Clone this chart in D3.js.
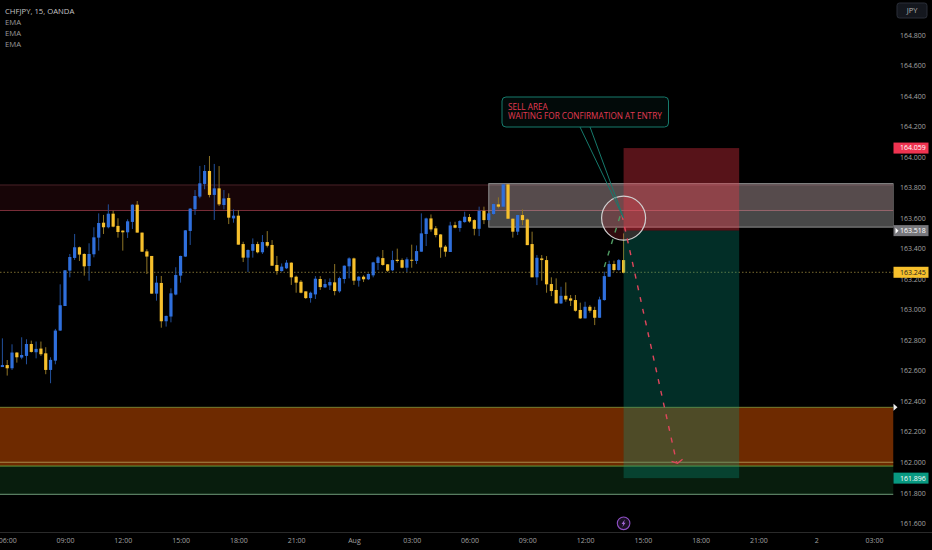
<!DOCTYPE html>
<html>
<head>
<meta charset="utf-8">
<script src="https://cdn.jsdelivr.net/npm/d3@7"></script>
<style>
    html, body { margin: 0; padding: 0; background: #000; }
    svg { display: block; }
    text { font-family: "Open Sans", sans-serif; }
</style>
</head>
<body>
<svg width="932" height="550"></svg>
<script>
let opens = [162.624,162.637,162.616,162.719,162.686,162.697,162.775,162.721,162.745,162.714,162.605,162.666,162.863,163.024,163.256,163.339,163.409,163.365,163.286,163.363,163.472,163.570,163.540,163.629,163.549,163.518,163.507,163.575,163.688,163.505,163.382,163.352,163.105,163.175,162.924,162.955,163.099,163.223,163.348,163.516,163.658,163.741,163.824,163.909,163.752,163.795,163.686,163.732,163.598,163.616,163.430,163.341,163.386,163.430,163.376,163.443,163.424,163.293,163.253,163.271,163.308,163.216,163.183,163.120,163.076,163.100,163.201,163.146,163.159,163.179,163.120,163.201,163.284,163.336,163.190,163.216,163.199,163.225,163.306,163.338,163.297,163.258,163.327,163.325,163.275,163.327,163.319,163.380,163.496,163.598,163.533,163.493,163.413,163.378,163.554,163.535,163.574,163.607,163.587,163.530,163.648,163.587,163.627,163.690,163.675,163.821,163.596,163.511,163.620,163.591,163.430,163.212,163.336,163.325,163.168,163.129,163.041,163.091,163.074,163.063,162.998,162.943,163.019,162.998,162.947,163.063,163.216,163.299,163.260,163.325];
let highs = [162.812,162.670,162.773,162.721,162.819,162.806,162.797,162.791,162.791,162.754,162.688,162.874,163.166,163.260,163.365,163.496,163.413,163.369,163.435,163.540,163.631,163.621,163.690,163.649,163.599,163.520,163.592,163.690,163.712,163.505,163.396,163.352,163.221,163.221,162.961,163.140,163.278,163.354,163.522,163.666,163.784,163.942,163.948,164.007,163.955,163.941,163.784,163.762,163.657,163.653,163.445,163.395,163.467,163.445,163.489,163.515,163.456,163.352,163.303,163.325,163.310,163.223,163.194,163.120,163.118,163.220,163.220,163.199,163.205,163.299,163.216,163.290,163.343,163.341,163.220,163.225,163.238,163.314,163.352,163.391,163.299,163.386,163.400,163.336,163.343,163.426,163.421,163.631,163.603,163.624,163.548,163.495,163.423,163.576,163.576,163.587,163.642,163.627,163.592,163.675,163.675,163.635,163.696,163.736,163.823,163.823,163.598,163.622,163.657,163.598,163.511,163.358,163.358,163.351,163.212,163.205,163.150,163.179,163.096,163.096,163.046,163.052,163.030,163.019,163.085,163.249,163.321,163.321,163.332,163.500];
let lows = [162.624,162.568,162.605,162.653,162.675,162.642,162.719,162.681,162.697,162.577,162.518,162.642,162.861,163.024,163.212,163.326,163.319,163.223,163.190,163.343,163.387,163.496,163.533,163.540,163.472,163.387,163.470,163.529,163.505,163.378,163.234,163.105,163.059,162.882,162.889,162.917,163.094,163.177,163.345,163.424,163.621,163.730,163.789,163.736,163.588,163.679,163.657,163.561,163.570,163.426,163.312,163.247,163.341,163.369,163.365,163.408,163.288,163.229,163.249,163.266,163.162,163.111,163.107,163.070,163.046,163.070,163.129,163.142,163.129,163.094,163.111,163.172,163.205,163.162,163.151,163.181,163.194,163.212,163.260,163.288,163.247,163.253,163.308,163.271,163.247,163.275,163.299,163.380,163.417,163.511,163.474,163.340,163.347,163.378,163.533,163.511,163.570,163.570,163.487,163.482,163.561,163.583,163.620,163.664,163.670,163.596,163.472,163.489,163.554,163.423,163.212,163.161,163.190,163.111,163.089,163.041,163.037,163.052,163.024,162.987,162.939,162.943,162.980,162.899,162.947,163.059,163.216,163.249,163.255,163.238];
let closes = [162.637,162.616,162.719,162.688,162.703,162.775,162.723,162.743,162.708,162.605,162.671,162.863,163.029,163.258,163.345,163.409,163.361,163.284,163.365,163.474,163.568,163.540,163.629,163.544,163.509,163.507,163.579,163.688,163.505,163.380,163.348,163.105,163.177,162.924,162.959,163.107,163.227,163.352,163.520,163.662,163.745,163.828,163.909,163.752,163.795,163.690,163.729,163.603,163.616,163.426,163.341,163.391,163.430,163.376,163.443,163.419,163.288,163.253,163.282,163.308,163.212,163.177,163.111,163.076,163.111,163.203,163.148,163.168,163.181,163.122,163.207,163.288,163.336,163.190,163.216,163.199,163.234,163.310,163.343,163.293,163.255,163.325,163.319,163.275,163.330,163.321,163.384,163.500,163.598,163.526,163.489,163.408,163.380,163.552,163.537,163.581,163.609,163.578,163.530,163.648,163.587,163.631,163.692,163.675,163.821,163.596,163.511,163.620,163.587,163.423,163.212,163.340,163.325,163.166,163.122,163.041,163.091,163.067,163.059,162.993,162.943,163.019,162.993,162.947,163.067,163.220,163.299,163.260,163.325,163.242];

let priceTicks = [161.6,161.8,162.0,162.2,162.4,162.6,162.8,163.0,163.2,163.4,163.6,163.8,164.0,164.2,164.4,164.6,164.8];
let legendLines = ["CHFJPY, 15, OANDA", "EMA", "EMA", "EMA"];
let calloutLines = ["SELL AREA", "WAITING FOR CONFIRMATION AT ENTRY"];

let lastPrice = 163.245;
let stopPrice = 164.059;
let entryPrice = 163.518;
let targetPrice = 161.896;
let pinkZone = [163.817, 163.650];
let greyZone = [163.826, 163.541];
let orangeZone = [162.360, 161.975];
let greenZone = [162.000, 161.790];

let firstBar = new Date(2024, 6, 31, 5, 45);
let greyStart = new Date(2024, 7, 1, 7, 0);
let positionStart = new Date(2024, 7, 1, 14, 0);
let positionEnd = new Date(2024, 7, 1, 20, 0);
let iconTime = new Date(2024, 7, 1, 14, 0);

// arrow path drawn on the chart: up to the zone, then down to the target
let upMove = [[new Date(2024, 7, 1, 13, 0), 163.28], [new Date(2024, 7, 1, 13, 50), 163.62]];
let downMove = [[new Date(2024, 7, 1, 13, 55), 163.62], [new Date(2024, 7, 1, 16, 45), 162.0]];

let svg = d3.select("svg"),
    width = +svg.attr("width"),
    height = +svg.attr("height");

let plotRight = 893.5, plotBottom = 532.5;

let x = d3.scaleTime()
    .domain([new Date(2024, 6, 31, 9), new Date(2024, 7, 2, 3)])
    .range([65, 874]);
let y = d3.scaleLinear()
    .domain([161.6, 164.8])
    .range([523.3, 35]);

let bars = opens.map((o, i) => ({
    time: d3.timeMinute.offset(firstBar, i * 15),
    open: o, high: highs[i], low: lows[i], close: closes[i]
}));

svg.append("defs").append("clipPath").attr("id", "plot")
    .append("rect").attr("width", plotRight).attr("height", plotBottom);

let g = svg.append("g").attr("clip-path", "url(#plot)");

function band(prices, fill, x0, x1) {
    return g.append("rect")
        .attr("x", x0).attr("width", x1 - x0)
        .attr("y", y(prices[0])).attr("height", y(prices[1]) - y(prices[0]))
        .attr("fill", fill);
}

function hline(price, color, x0, x1) {
    return g.append("line")
        .attr("x1", x0).attr("x2", x1)
        .attr("y1", y(price)).attr("y2", y(price))
        .attr("stroke", color);
}

// zones behind the candles
band(greenZone, "rgba(20,70,30,0.42)", 0, plotRight);
band(orangeZone, "#6e2a00", 0, plotRight);
band(pinkZone, "rgba(130,25,40,0.18)", 0, plotRight);
hline(pinkZone[0], "#4a2228", 0, plotRight);
hline(pinkZone[1], "#7c2f3a", 0, plotRight);
hline(orangeZone[0], "#77802f", 0, plotRight);
hline(orangeZone[1], "#5d9a3c", 0, plotRight);
hline(greenZone[0], "#a88a4a", 0, plotRight);
hline(greenZone[1], "#6f9a78", 0, plotRight);

hline(lastPrice, "#7a6c30", 0, plotRight).attr("stroke-dasharray", "1.5,2");

band(greyZone, "rgba(200,200,200,0.36)", x(greyStart), plotRight)
    .attr("stroke", "#8c8c8c").attr("stroke-width", 1);

// candles
let candle = g.selectAll(".candle")
    .data(bars)
    .enter().append("g")
    .attr("class", "candle");

candle.append("line")
    .attr("x1", d => x(d.time)).attr("x2", d => x(d.time))
    .attr("y1", d => y(d.high)).attr("y2", d => y(d.low))
    .attr("stroke", d => d.close >= d.open ? "#22509c" : "#8f7526")
    .attr("stroke-width", 1);

candle.append("rect")
    .attr("x", d => x(d.time) - 1.6)
    .attr("width", 3.2)
    .attr("y", d => y(Math.max(d.open, d.close)))
    .attr("height", d => Math.max(1, Math.abs(y(d.open) - y(d.close))))
    .attr("fill", d => d.close >= d.open ? "#2f6fdc" : "#f7c02c");

// long/short position over the candles
g.append("rect")
    .attr("x", x(positionStart)).attr("width", x(positionEnd) - x(positionStart))
    .attr("y", y(stopPrice)).attr("height", y(entryPrice) - y(stopPrice))
    .attr("fill", "rgba(242,54,69,0.36)");
g.append("rect")
    .attr("x", x(positionStart)).attr("width", x(positionEnd) - x(positionStart))
    .attr("y", y(entryPrice)).attr("height", y(targetPrice) - y(entryPrice))
    .attr("fill", "rgba(8,153,129,0.3)");

// circle round the entry
g.append("circle")
    .attr("cx", x(positionStart)).attr("cy", y(163.6))
    .attr("r", 22)
    .attr("fill", "rgba(242,54,69,0.2)")
    .attr("stroke", "#cfcfcf").attr("stroke-width", 1.2);

// dashed arrows
let arrowLine = d3.line()
    .x(d => x(d[0]))
    .y(d => y(d[1]));

g.append("path")
    .attr("d", arrowLine(upMove))
    .attr("fill", "none").attr("stroke", "#4f9a62").attr("stroke-width", 1.4)
    .attr("stroke-dasharray", "5,7");
g.append("path")
    .attr("d", arrowLine(downMove))
    .attr("fill", "none").attr("stroke", "#e0465c").attr("stroke-width", 1.4)
    .attr("stroke-dasharray", "5,7");

let tipX = x(downMove[1][0]), tipY = y(downMove[1][1]);
g.append("path")
    .attr("d", `M${tipX - 5},${tipY - 1}L${tipX + 1},${tipY + 1}L${tipX + 6},${tipY - 3}`)
    .attr("fill", "none").attr("stroke", "#e0465c").attr("stroke-width", 1.3);

// callout
g.append("path")
    .attr("d", `M580,127L${x(positionStart)},${y(163.6)}L590,127`)
    .attr("fill", "none").attr("stroke", "#167a6c").attr("stroke-width", 1);

g.append("rect")
    .attr("x", 502).attr("y", 97).attr("width", 166.5).attr("height", 30).attr("rx", 4)
    .attr("fill", "#020a09").attr("stroke", "#167a6c");

g.append("text")
    .attr("y", 110)
    .attr("font-size", 8.2)
    .attr("fill", "#e23a52")
    .selectAll("tspan")
    .data(calloutLines)
    .enter().append("tspan")
    .attr("x", 508)
    .attr("dy", (d, i) => i === 0 ? 0 : 8.8)
    .text(d => d);

// axes
let yAxis = d3.axisRight(y)
    .tickValues(priceTicks)
    .tickSize(0)
    .tickPadding(6.5)
    .tickFormat(d3.format(".3f"));
let yG = svg.append("g").attr("transform", `translate(${plotRight},0)`).call(yAxis);

let hour = d3.timeFormat("%H:%M");
let timeTicks = d3.timeHour.every(3).range(new Date(2024, 6, 31, 6), new Date(2024, 7, 2, 4));
let xAxis = d3.axisBottom(x)
    .tickValues(timeTicks)
    .tickSize(0)
    .tickPadding(5.5)
    .tickFormat(d => {
        if (d.getHours() !== 0) return hour(d);
        return d.getDate() === 1 ? "Aug" : "2";
    });
let xG = svg.append("g").attr("transform", `translate(0,${plotBottom})`).call(xAxis);

[yG, xG].forEach(a => {
    a.select(".domain").remove();
    a.selectAll("text")
        .attr("fill", "#a3a3a3")
        .attr("font-size", 7)
        .style("font-family", "\"Open Sans\", sans-serif");
});

svg.append("line")
    .attr("x1", 0).attr("x2", width)
    .attr("y1", plotBottom).attr("y2", plotBottom)
    .attr("stroke", "#2a2a2a");

// price tags on the scale
function priceTag(price, fill, textColor) {
    let tag = svg.append("g").attr("transform", `translate(${plotRight},${y(price)})`);
    tag.append("rect")
        .attr("x", 0).attr("y", -5.5).attr("width", 35).attr("height", 11)
        .attr("fill", fill);
    tag.append("text")
        .attr("x", 6.5).attr("dy", "0.34em")
        .attr("font-size", 7)
        .attr("fill", textColor)
        .text(d3.format(".3f")(price));
    return tag;
}

priceTag(stopPrice, "#ef3350", "#fff");
priceTag(entryPrice, "#77777c", "#fff")
    .append("path").attr("d", "M2,-3L5,0L2,3Z").attr("fill", "#fff");
priceTag(lastPrice, "#f7c02c", "#222");
priceTag(targetPrice, "#089981", "#fff");

svg.append("path")
    .attr("transform", `translate(${plotRight},${y(orangeZone[0])})`)
    .attr("d", "M0,-3.5L4,0L0,3.5Z")
    .attr("fill", "#eee");

// JPY button
svg.append("rect")
    .attr("x", 897).attr("y", 3).attr("width", 30).attr("height", 15).attr("rx", 2.5)
    .attr("fill", "#14171e").attr("stroke", "#2b2f38");
svg.append("text")
    .attr("x", 912).attr("y", 13.3)
    .attr("text-anchor", "middle")
    .attr("font-size", 7.5)
    .attr("fill", "#b4b4b4")
    .text("JPY");

// legend
svg.selectAll(".legend")
    .data(legendLines)
    .enter().append("text")
    .attr("class", "legend")
    .attr("x", 5)
    .attr("y", (d, i) => 13.8 + i * 11)
    .attr("font-size", 7.7)
    .attr("fill", (d, i) => i === 0 ? "#c4c4c4" : "#9a9a9a")
    .text(d => d);

// lightning marker
let icon = svg.append("g").attr("transform", `translate(${x(iconTime)},${y(161.6)})`);
icon.append("circle")
    .attr("r", 6.3)
    .attr("fill", "#1a1024")
    .attr("stroke", "#8e4fc4").attr("stroke-width", 1.1);
icon.append("path")
    .attr("d", "M1.2,-3.8L-2,0.6L-0.3,0.6L-1.2,3.8L2,-0.6L0.3,-0.6Z")
    .attr("fill", "#a56ad8");
</script>
</body>
</html>
